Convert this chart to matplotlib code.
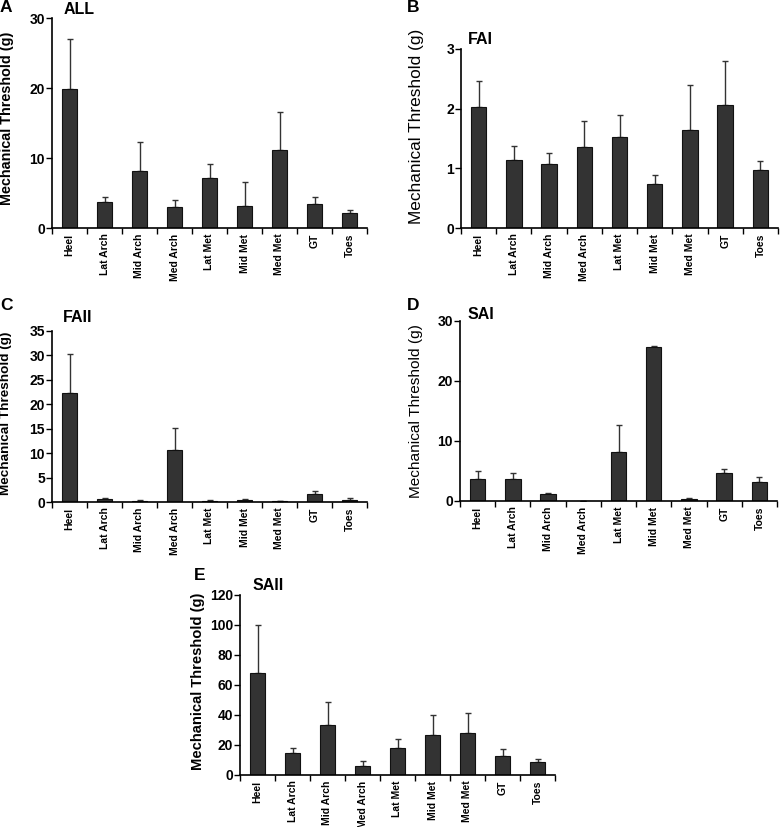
import numpy as np
import matplotlib
matplotlib.use('Agg')
import matplotlib.pyplot as plt

plt.rcParams['font.family'] = ['Liberation Sans', 'DejaVu Sans']
plt.rcParams['font.weight'] = 'bold'

sites = ['Heel', 'Lat Arch', 'Mid Arch', 'Med Arch', 'Lat Met',
         'Mid Met', 'Med Met', 'GT', 'Toes']

# mean values and upper error (top of the error bar) for each panel
all_mean = [19.8, 3.7, 8.2, 3.0, 7.2, 3.2, 11.1, 3.4, 2.2]
all_top = [27.0, 4.4, 12.3, 4.0, 9.2, 6.6, 16.6, 4.5, 2.6]

fai_mean = [2.02, 1.14, 1.08, 1.36, 1.52, 0.74, 1.64, 2.06, 0.98]
fai_top = [2.47, 1.38, 1.26, 1.80, 1.90, 0.88, 2.40, 2.80, 1.12]

faii_mean = [22.4, 0.6, 0.3, 10.6, 0.3, 0.5, 0.2, 1.6, 0.5]
faii_top = [30.2, 0.8, 0.5, 15.2, 0.4, 0.7, 0.25, 2.3, 0.8]

sai_mean = [3.6, 3.6, 1.2, 0.0, 8.2, 25.7, 0.4, 4.6, 3.2]
sai_top = [5.0, 4.6, 1.4, 0.0, 12.6, 25.8, 0.5, 5.3, 4.0]

saii_mean = [68, 15, 33.5, 6, 18, 26.5, 28, 12.5, 8.5]
saii_top = [100, 18, 49, 9.5, 24, 40, 41.5, 17.5, 11]

W, H = 781, 827
fig = plt.figure(figsize=(W / 100, H / 100), dpi=100)


def make_panel(px, letter, title, mean, top, ymax, yticks,
               letter_xy, title_xy, ylab_xy, ylab_size, ylab_weight='bold'):
    left, right, ytop, ybot = px
    ax = fig.add_axes([left / W, 1 - ybot / H, (right - left) / W, (ybot - ytop) / H])
    x = np.arange(len(sites))
    mean = np.array(mean)
    err = np.array(top) - mean
    ax.bar(x, mean, width=0.44, color='#333333', edgecolor='#111111', linewidth=0.8, zorder=2)
    ax.errorbar(x, mean, yerr=[np.zeros_like(err), err], fmt='none',
                ecolor='#333333', elinewidth=1.0, capsize=2, capthick=1.0, zorder=1)
    ax.set_xlim(-0.5, len(sites) - 0.5)
    ax.set_ylim(0, ymax)
    ax.set_yticks(yticks)
    ax.set_yticklabels([str(t) for t in yticks], fontsize=10, fontweight='bold')
    ax.set_xticks(x)
    ax.set_xticklabels(sites, rotation=90, fontsize=7.5, fontweight='bold')
    ax.tick_params(axis='x', length=0, pad=4)
    ax.set_xticks(np.arange(-0.5, len(sites)), minor=True)
    ax.tick_params(axis='x', which='minor', length=4, width=1.0, direction='out')
    ax.tick_params(axis='y', length=4, width=1.0, pad=1)
    for s in ['top', 'right']:
        ax.spines[s].set_visible(False)
    for s in ['left', 'bottom']:
        ax.spines[s].set_linewidth(1.2)
    fig.text(ylab_xy[0] / W, 1 - ylab_xy[1] / H, 'Mechanical Threshold (g)',
             fontsize=ylab_size, fontweight=ylab_weight, rotation=90, ha='center', va='center')
    fig.text(letter_xy[0] / W, 1 - letter_xy[1] / H, letter, fontsize=12.5,
             fontweight='bold', ha='left', va='center')
    fig.text(title_xy[0] / W, 1 - title_xy[1] / H, title, fontsize=11.5,
             fontweight='bold', ha='left', va='center')
    return ax


make_panel((52, 367, 18, 228), 'A', 'ALL', all_mean, all_top, 30, [0, 10, 20, 30],
           (0, 7), (64, 9), (7, 118), 10.4)
make_panel((461, 778, 49, 228), 'B', 'FAI', fai_mean, fai_top, 3, [0, 1, 2, 3],
           (407, 7), (468, 40), (417, 126), 12.4, 'normal')
make_panel((52, 367, 331, 502), 'C', 'FAII', faii_mean, faii_top, 35,
           [0, 5, 10, 15, 20, 25, 30, 35], (0, 305), (63, 318), (6, 413), 9.7)
make_panel((460, 777, 321, 501), 'D', 'SAI', sai_mean, sai_top, 30, [0, 10, 20, 30],
           (407, 305), (468, 315), (416, 411), 11.1, 'normal')
make_panel((240, 555, 595, 775), 'E', 'SAII', saii_mean, saii_top, 120,
           [0, 20, 40, 60, 80, 100, 120], (194, 575), (253, 585), (198, 681), 10.6)

fig.savefig('out.png', dpi=100)
